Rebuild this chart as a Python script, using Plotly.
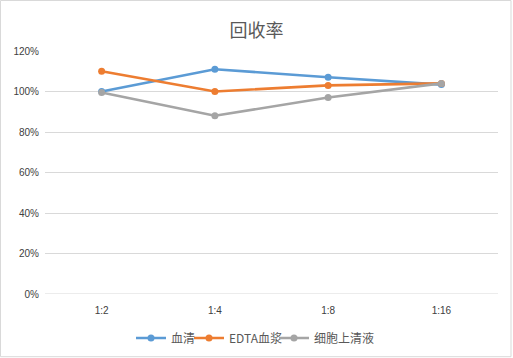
import plotly.graph_objects as go

categories = ["1:2", "1:4", "1:8", "1:16"]
serum = [1.00, 1.11, 1.07, 1.034]
edta_plasma = [1.10, 1.00, 1.03, 1.04]
supernatant = [0.995, 0.88, 0.97, 1.04]
series_names = ["血清", "EDTA血浆", "细胞上清液"]
colors = ["#5B9BD5", "#ED7D31", "#A5A5A5"]
y_ticks = [0, 0.2, 0.4, 0.6, 0.8, 1.0, 1.2]

W, H = 513, 358
l, r, t, b = 45, 15, 51, 64
pw, ph = W - l - r, H - t - b
txt = "#595959"
legend_ids = ["legend", "legend2", "legend3"]
legend_left_px = [131, 189, 274]

fig = go.Figure()
for name, vals, c, lg in zip(series_names, [serum, edta_plasma, supernatant], colors, legend_ids):
    fig.add_trace(go.Scatter(x=categories, y=vals, name=name, mode="lines+markers",
                             line=dict(color=c, width=2.6), marker=dict(color=c, size=7),
                             legend=lg))

legend_common = dict(orientation="h", xanchor="left", yref="container",
                     y=1 - 338 / H, yanchor="middle", bgcolor="rgba(0,0,0,0)",
                     font=dict(family="Noto Sans CJK SC, Liberation Sans", size=12, color=txt),
                     itemwidth=30)
legends = {lg: dict(legend_common, x=(px - l) / pw) for lg, px in zip(legend_ids, legend_left_px)}

fig.update_layout(
    width=W, height=H,
    margin=dict(l=l, r=r, t=t, b=b, autoexpand=False),
    paper_bgcolor="white", plot_bgcolor="white",
    font=dict(family="Liberation Sans, Noto Sans CJK SC", size=10, color=txt),
    title=dict(text="回收率", x=0.5, xanchor="center", y=1 - 31 / H, yanchor="middle",
               font=dict(family="Noto Sans CJK SC", size=18, color=txt)),
    xaxis=dict(type="category", range=[-0.5, 3.5], showgrid=False, showline=False,
               ticks="", tickfont=dict(size=10, color="#404040"), automargin=False,
               ticklabelstandoff=9),
    yaxis=dict(range=[0, 1.2], tickvals=y_ticks, tickformat=".0%", showgrid=True,
               gridcolor="#D9D9D9", gridwidth=1, zeroline=False, ticks="", ticklen=0,
               tickfont=dict(size=10, color="#404040"), automargin=False,
               ticklabelstandoff=5),
    showlegend=True,
    **legends,
)
fig.add_shape(type="line", xref="paper", yref="y", x0=0, x1=1, y0=0, y1=0,
              line=dict(color="#D9D9D9", width=1))
fig.add_shape(type="rect", xref="paper", yref="paper",
              x0=(0.5 - l) / pw, x1=(511 - l) / pw,
              y0=(-(356.7 - (H - b))) / ph, y1=(ph + t - 0.5) / ph,
              line=dict(color="#D9D9D9", width=1))
fig.write_html("out.html", config={"displayModeBar": False},
               post_script="document.body.style.margin='0';document.body.style.overflow='hidden';")
